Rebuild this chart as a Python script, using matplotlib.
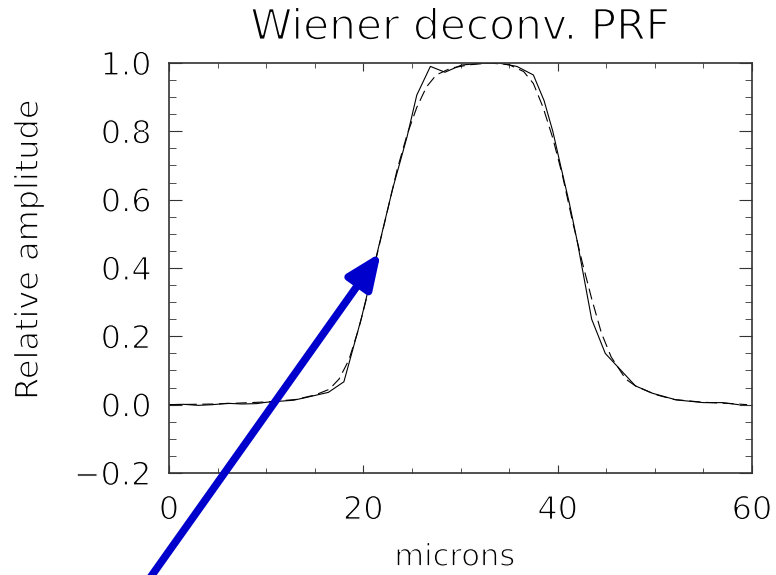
import matplotlib
matplotlib.use("Agg")
import matplotlib.pyplot as plt
import matplotlib.patheffects as pe

# solid curve (measured PRF)
solid_x = [0, 1.5, 3, 4.5, 6, 7.5, 9, 10, 12.8, 13.8, 16.4, 18.0, 19.8, 21.5,
           23.0, 24.5, 25.5, 26.9, 28.4, 30.1, 32.0, 33.9, 35.8, 37.5, 38.6,
           39.5, 40.3, 41.2, 42.0, 43.5, 44.9, 48.0, 49.8, 52.2, 55.0, 57.0, 58.6]
solid_y = [0.0, 0.001, -0.002, 0.0, 0.004, 0.002, 0.003, 0.007, 0.013, 0.019,
           0.036, 0.067, 0.253, 0.453, 0.63, 0.784, 0.906, 0.99, 0.973, 0.994,
           0.999, 1.0, 0.99, 0.965, 0.89, 0.80, 0.70, 0.59, 0.48, 0.25, 0.15,
           0.055, 0.033, 0.014, 0.006, 0.006, 0.0]

# dashed curve (model)
dashed_x = [0, 5, 10, 13, 15, 16.5, 17.5, 18.5, 19.5, 20.5, 21.5, 22.5, 23.5,
            24.5, 25.5, 26.5, 27.5, 29, 31, 33, 35, 36.5, 37.5, 38.5, 39.5,
            40.5, 41.5, 42.5, 43.5, 44.5, 45.5, 47, 48, 50, 52, 55, 58, 59.5]
dashed_y = [0.0, 0.002, 0.008, 0.015, 0.028, 0.045, 0.075, 0.13, 0.22, 0.33,
            0.45, 0.57, 0.69, 0.79, 0.87, 0.93, 0.965, 0.985, 0.995, 1.0, 0.995,
            0.975, 0.94, 0.87, 0.78, 0.67, 0.54, 0.42, 0.31, 0.21, 0.14, 0.075,
            0.055, 0.03, 0.015, 0.007, 0.003, 0.0]

x_ticks = [0, 20, 40, 60]
y_ticks = [-0.2, 0.0, 0.2, 0.4, 0.6, 0.8, 1.0]
y_ticklabels = ['\u22120.2', '0.0', '0.2', '0.4', '0.6', '0.8', '1.0']

# thin the glyphs a little so the text looks like IDL's vector font
thin = [pe.Stroke(linewidth=0.9, foreground='white')]
thin_title = [pe.Stroke(linewidth=1.2, foreground='white')]

fig = plt.figure(figsize=(7.76, 5.75), dpi=100)
ax = fig.add_axes([169 / 776, 1 - 473 / 575, (752 - 169) / 776, (473 - 63) / 575])

ax.plot(solid_x, solid_y, color='black', lw=0.8)
ax.plot(dashed_x, dashed_y, color='black', lw=0.8, dashes=(10, 5))

ax.set_xlim(0, 60)
ax.set_ylim(-0.2, 1.0)
ax.set_xticks(x_ticks)
ax.set_xticks(range(0, 61, 5), minor=True)
ax.set_yticks(y_ticks)
ax.set_yticklabels(y_ticklabels)
ax.set_yticks([v / 100 for v in range(-20, 101, 5)], minor=True)

ax.tick_params(which='both', direction='in', top=True, right=True,
               color='#333333', labelsize=23, labelcolor='black')
ax.tick_params(axis='y', which='major', length=9.5, pad=12.5)
ax.tick_params(axis='y', which='minor', length=5)
ax.tick_params(axis='x', which='major', length=6, pad=16)
ax.tick_params(axis='x', which='minor', length=3.5)
for s in ax.spines.values():
    s.set_color('#333333')
    s.set_linewidth(1.2)

ax.set_title('Wiener deconv. PRF', fontsize=30.5, color='black', pad=17)
ax.set_xlabel('microns', fontsize=22, color='black')
ax.set_ylabel('Relative amplitude', fontsize=23, color='black')
ax.xaxis.set_label_coords(0.49, -0.17)
ax.yaxis.set_label_coords(-0.213, 0.545)

for t in ax.get_xticklabels() + ax.get_yticklabels() + [ax.xaxis.label, ax.yaxis.label]:
    t.set_path_effects(thin)
ax.title.set_path_effects(thin_title)

# blue arrow pointing at the rising edge
ax.annotate('', xy=(21.8, 0.445), xycoords='data',
            xytext=(148 / 776, -0.01), textcoords='figure fraction',
            arrowprops=dict(arrowstyle='-|>,head_length=1.05,head_width=0.45',
                            color='#0000cc', lw=5.5, mutation_scale=20,
                            shrinkA=0, shrinkB=0),
            annotation_clip=False)

fig.savefig('out.png', dpi=100)
